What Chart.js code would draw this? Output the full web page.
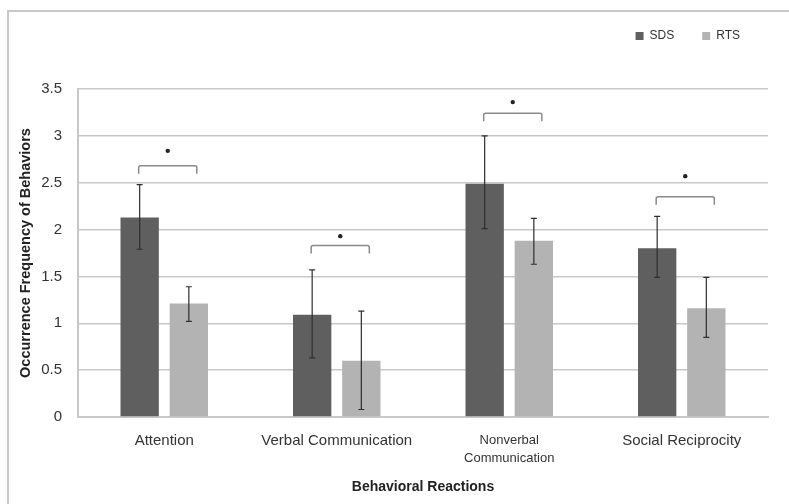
<!DOCTYPE html>
<html>
<head>
<meta charset="utf-8">
<script src="https://cdn.jsdelivr.net/npm/chart.js@4"></script>
<style>
  html, body { margin: 0; padding: 0; background: #fff; }
  #wrap { width: 789px; height: 504px; position: relative; }
</style>
</head>
<body>
<div id="wrap"><canvas id="chart"></canvas></div>
<script>
const categories = ['Attention', 'Verbal Communication', ['Nonverbal', 'Communication'], 'Social Reciprocity'];
const sdsValues = [2.13, 1.09, 2.49, 1.80];
const rtsValues = [1.21, 0.60, 1.88, 1.16];
// error bar ends [low, high]
const sdsErrors = [[1.79, 2.48], [0.63, 1.57], [2.01, 3.00], [1.49, 2.14]];
const rtsErrors = [[1.02, 1.39], [0.08, 1.13], [1.63, 2.12], [0.85, 1.49]];
// significance brackets: bracket height, star height
const bracketLevels = [2.68, 1.83, 3.24, 2.35];
const starLevels = [2.84, 1.93, 3.36, 2.57];
const yTicks = [0, 0.5, 1, 1.5, 2, 2.5, 3, 3.5];

const fontFamily = '"Liberation Sans", Arial, sans-serif';

// frame, error bars + significance brackets
const annotations = {
    id: 'annotations',
    beforeDraw(chart) {
        const ctx = chart.ctx;
        ctx.save();
        ctx.strokeStyle = '#c8c8c8';
        ctx.lineWidth = 2;
        ctx.strokeRect(8, 11, 820, 540);
        ctx.restore();
    },
    afterDatasetsDraw(chart) {
        const ctx = chart.ctx;
        const y = chart.scales.y;
        const errs = [sdsErrors, rtsErrors];
        ctx.save();
        ctx.strokeStyle = '#2e2e2e';
        ctx.lineWidth = 1.2;
        errs.forEach((set, d) => {
            chart.getDatasetMeta(d).data.forEach((bar, i) => {
                const lo = y.getPixelForValue(set[i][0]);
                const hi = y.getPixelForValue(set[i][1]);
                ctx.beginPath();
                ctx.moveTo(bar.x, lo); ctx.lineTo(bar.x, hi);
                ctx.moveTo(bar.x - 3, lo); ctx.lineTo(bar.x + 3, lo);
                ctx.moveTo(bar.x - 3, hi); ctx.lineTo(bar.x + 3, hi);
                ctx.stroke();
            });
        });

        const sdsBars = chart.getDatasetMeta(0).data;
        const rtsBars = chart.getDatasetMeta(1).data;
        ctx.strokeStyle = '#8a8a8a';
        ctx.lineWidth = 1.5;
        ctx.fillStyle = '#222';
        bracketLevels.forEach((lvl, i) => {
            const x1 = sdsBars[i].x - 1;
            const x2 = rtsBars[i].x + 8;
            const by = y.getPixelForValue(lvl);
            ctx.beginPath();
            ctx.moveTo(x1, by + 8);
            ctx.lineTo(x1, by + 2);
            ctx.quadraticCurveTo(x1, by, x1 + 2, by);
            ctx.lineTo(x2 - 2, by);
            ctx.quadraticCurveTo(x2, by, x2, by + 2);
            ctx.lineTo(x2, by + 8);
            ctx.stroke();
            const sy = y.getPixelForValue(starLevels[i]);
            ctx.beginPath();
            ctx.arc((x1 + x2) / 2, sy, 2.2, 0, Math.PI * 2);
            ctx.fill();
        });
        ctx.restore();
    }
};

new Chart(document.getElementById('chart'), {
    type: 'bar',
    data: {
        labels: categories,
        datasets: [
            { label: 'SDS', data: sdsValues, backgroundColor: '#5f5f5f' },
            { label: 'RTS', data: rtsValues, backgroundColor: '#b3b3b3' }
        ]
    },
    options: {
        responsive: true,
        maintainAspectRatio: false,
        animation: false,
        devicePixelRatio: 1,
        categoryPercentage: 0.57,
        barPercentage: 0.78,
        layout: { padding: { left: 14, right: 21, top: 2, bottom: 8 } },
        plugins: {
            legend: {
                position: 'top',
                align: 'end',
                labels: {
                    boxWidth: 8,
                    boxHeight: 8,
                    padding: 28,
                    color: '#333',
                    font: { family: fontFamily, size: 12 }
                }
            },
            // blank spacer between the legend and the plot
            title: {
                display: true,
                text: '',
                weight: 500,
                font: { size: 10 },
                padding: { top: 0, bottom: 25 }
            },
            tooltip: { enabled: false }
        },
        scales: {
            x: {
                afterFit: s => { s.height = 79; },
                grid: { display: false },
                border: { color: '#c8c8c8', width: 2 },
                ticks: {
                    color: '#333',
                    padding: 7,
                    maxRotation: 0,
                    font: c => c.index === 2
                        ? { family: fontFamily, size: 13, lineHeight: 1.35 }
                        : { family: fontFamily, size: 15 }
                },
                title: {
                    display: true,
                    text: 'Behavioral Reactions',
                    color: '#222',
                    padding: { top: 0, bottom: 0 },
                    font: { family: fontFamily, size: 14, weight: 'bold' }
                }
            },
            y: {
                min: 0,
                max: 3.5,
                afterFit: s => { s.width = 64; },
                afterBuildTicks: s => { s.ticks = yTicks.map(v => ({ value: v })); },
                ticks: {
                    color: '#333',
                    padding: 16,
                    font: { family: fontFamily, size: 15 },
                    callback: v => String(v)
                },
                grid: { color: '#c8c8c8', lineWidth: 1.5, drawTicks: false },
                border: { color: '#c8c8c8', width: 2 },
                title: {
                    display: true,
                    text: 'Occurrence Frequency of Behaviors',
                    color: '#222',
                    padding: { top: 3, bottom: 0 },
                    font: { family: fontFamily, size: 14.5, weight: 'bold' }
                }
            }
        }
    },
    plugins: [annotations]
});
</script>
</body>
</html>
